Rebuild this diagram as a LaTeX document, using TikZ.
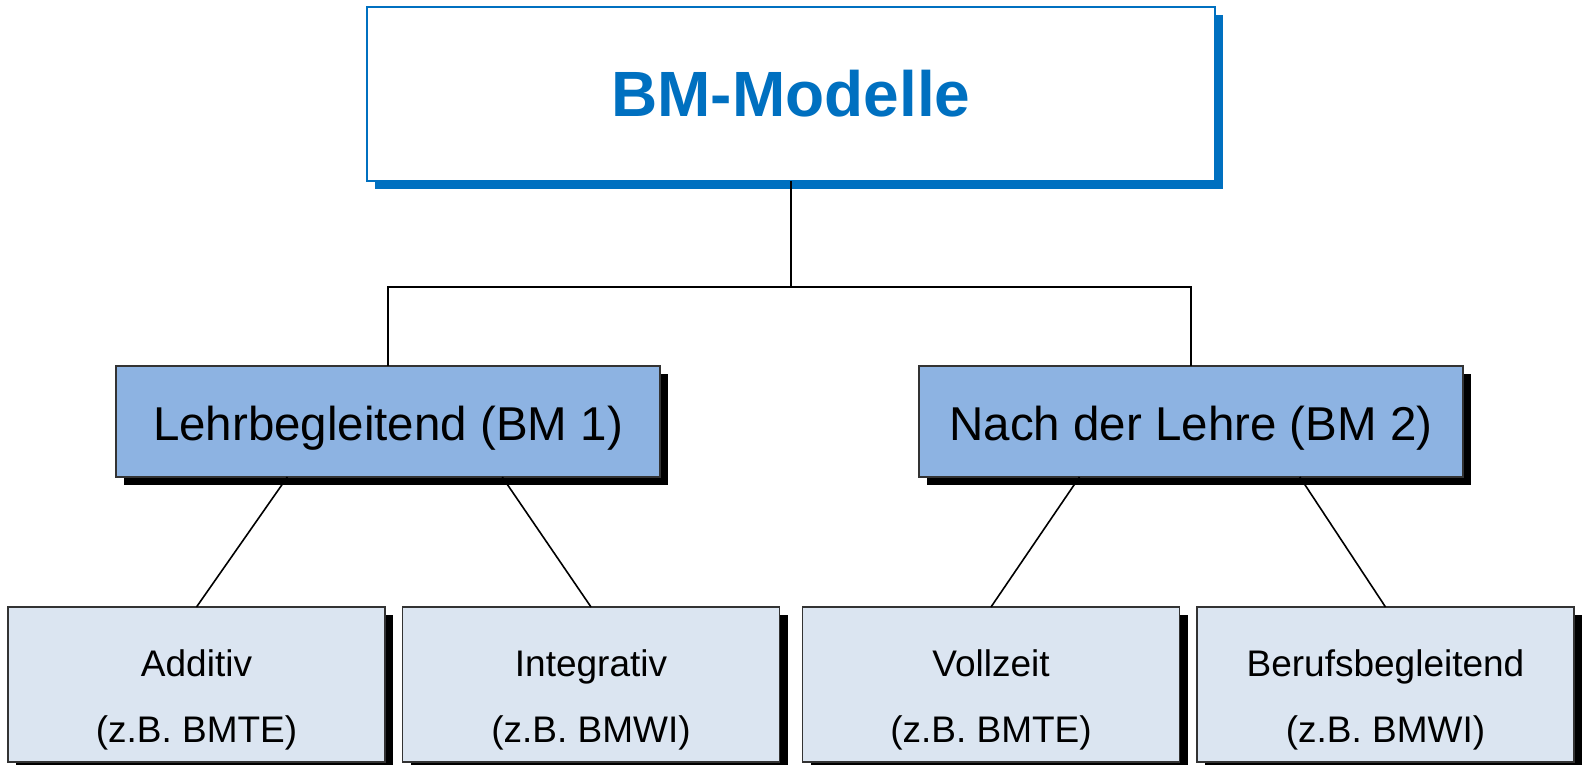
\documentclass[tikz,border=0pt]{standalone}
\usepackage{fontspec}
\setmainfont{Liberation Sans}
\usetikzlibrary{shadows,calc}

\definecolor{bmblue}{RGB}{0,112,192}
\definecolor{groupfill}{RGB}{141,179,226}
\definecolor{leaffill}{RGB}{219,229,241}

\tikzset{
  rootbox/.style={draw=bmblue, line width=1.5pt, fill=white, outer sep=0pt,
    minimum width=848pt, minimum height=174pt, text=bmblue,
    font=\fontsize{64}{70}\selectfont\bfseries,
    drop shadow={shadow xshift=8pt, shadow yshift=-8pt, fill=bmblue, opacity=1}},
  groupbox/.style={draw=black!80, line width=1.2pt, fill=groupfill, outer sep=0pt,
    minimum width=544pt, minimum height=111pt, text height=48pt, text depth=10pt,
    font=\fontsize{47.5}{52}\selectfont,
    drop shadow={shadow xshift=8pt, shadow yshift=-8pt, fill=black, opacity=1}},
  leafbox/.style={draw=black!80, line width=1.2pt, fill=leaffill, outer sep=0pt,
    minimum width=377pt, minimum height=155pt, align=center,
    font=\fontsize{37}{66}\selectfont,
    drop shadow={shadow xshift=8pt, shadow yshift=-8pt, fill=black, opacity=1}},
  link/.style={line width=1.6pt, black}
}

\begin{document}
\begin{tikzpicture}[x=1pt,y=-1pt]
        \useasboundingbox (0,0) rectangle (1585,765);
        % boxes
        \node[rootbox] (root) at (791,94) {BM-Modelle};
        \node[groupbox] (lehr) at (388,421.5) {Lehrbegleitend (BM 1)};
        \node[groupbox] (nach) at (1191,421.5) {Nach der Lehre (BM 2)};
        \node[leafbox] (add) at (196.5,684.5) {\rule{0pt}{57pt}Additiv\\(z.B. BMTE)};
        \node[leafbox] (int) at (591,684.5) {\rule{0pt}{57pt}Integrativ\\(z.B. BMWI)};
        \node[leafbox] (voll) at (991,684.5) {\rule{0pt}{57pt}Vollzeit\\(z.B. BMTE)};
        \node[leafbox] (beruf) at (1385.5,684.5) {\rule{0pt}{57pt}Berufsbegleitend\\(z.B. BMWI)};
        % connectors
        \draw[link] (root.south) -- ++(0,106) coordinate (fork);
        \draw[link] (fork) -| (lehr.north);
        \draw[link] (fork) -| (nach.north);
        \draw[link] ($(lehr.south)!0.37!(lehr.south west)$) -- (add.north);
        \draw[link] ($(lehr.south)!0.42!(lehr.south east)$) -- (int.north);
        \draw[link] ($(nach.south)!0.41!(nach.south west)$) -- (voll.north);
        \draw[link] ($(nach.south)!0.40!(nach.south east)$) -- (beruf.north);
\end{tikzpicture}
\end{document}
